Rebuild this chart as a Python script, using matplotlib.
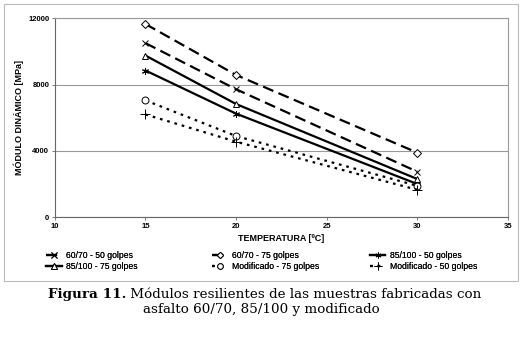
import matplotlib.pyplot as plt
from matplotlib.patches import Rectangle

# temperatures [C] and dynamic modulus [MPa]
temps = [15, 20, 30]
m6070_50 = [10500, 7720, 2750]
m6070_75 = [11650, 8580, 3900]
m85100_50 = [8850, 6250, 2010]
m85100_75 = [9750, 6830, 2310]
mod_75 = [7050, 4900, 1900]
mod_50 = [6200, 4560, 1660]

labels = ["60/70 - 50 golpes", "60/70 - 75 golpes", "85/100 - 50 golpes",
          "85/100 - 75 golpes", "Modificado - 75 golpes", "Modificado - 50 golpes"]

plt.rcParams["font.family"] = ["Liberation Sans", "DejaVu Sans"]

fig = plt.figure(figsize=(5.23, 3.38), dpi=100)
fig.patch.set_facecolor("white")
# outer chart frame
fig.add_artist(Rectangle((0.008, 0.17), 0.983, 0.818, transform=fig.transFigure,
                         fill=False, edgecolor="#BBBBBB", linewidth=0.8))

ax = fig.add_axes([0.105, 0.357, 0.866, 0.589])

long_dash = (0, (5, 2.5))
dots = (0, (1.2, 2.2))
mk = dict(markersize=5, markerfacecolor="white", markeredgecolor="black", markeredgewidth=0.7)
ln = dict(color="black", lw=1.6, dash_capstyle="butt")

h1, = ax.plot(temps, m6070_50, ls=long_dash, marker="x", **ln, **mk)
h2, = ax.plot(temps, m6070_75, ls=long_dash, marker="D", **ln, **{**mk, "markersize": 4})
h3, = ax.plot(temps, m85100_50, ls="-", marker=(6, 2, 0), **ln, **mk)
h4, = ax.plot(temps, m85100_75, ls="-", marker="^", **ln, **mk)
h5, = ax.plot(temps, mod_75, ls=dots, marker="o", **ln, **mk)
h6, = ax.plot(temps, mod_50, ls=dots, marker="+", **ln, **{**mk, "markersize": 7})

ax.set_xlim(10, 35)
ax.set_ylim(0, 12000)
ax.set_xticks([10, 15, 20, 25, 30, 35])
ax.set_yticks([0, 4000, 8000, 12000])
ax.yaxis.grid(True, color="#999999", linewidth=0.8)
ax.set_axisbelow(True)
for s in ax.spines.values():
    s.set_color("#999999")
    s.set_linewidth(0.8)
ax.spines["bottom"].set_color("#666666")
ax.spines["left"].set_color("#666666")
ax.tick_params(labelsize=5.5, length=2, width=0.6, color="#666666", pad=2)
for t in ax.get_xticklabels() + ax.get_yticklabels():
    t.set_fontweight("bold")

ax.set_xlabel("TEMPERATURA [ºC]", fontsize=6.5, fontweight="bold", labelpad=3)
ax.set_ylabel("MÓDULO DINÁMICO [MPa]", fontsize=6.5, fontweight="bold", labelpad=3)

# legend: three columns of two rows, placed like the original
cols = [([h1, h4], [labels[0], labels[3]], 0.088),
        ([h2, h5], [labels[1], labels[4]], 0.405),
        ([h3, h6], [labels[2], labels[5]], 0.707)]
for hs, ls_, x0 in cols:
    leg = fig.legend(hs, ls_, loc="center left", bbox_to_anchor=(x0, 0.227),
                     frameon=False, fontsize=6.2, handlelength=1.8, handletextpad=0.5,
                     labelspacing=0.25, markerscale=0.8, borderpad=0, borderaxespad=0)
    fig.add_artist(leg)

serif = "DejaVu Serif"
fs = 9.7
t1 = fig.text(0.092, 0.13, "Figura 11.", fontsize=fs, family=serif,
              fontweight="bold", va="center")
fig.canvas.draw()
x_next = t1.get_window_extent().x1 / fig.bbox.width
fig.text(x_next, 0.13, " Módulos resilientes de las muestras fabricadas con",
         fontsize=fs, family=serif, va="center")
fig.text(0.5, 0.083, "asfalto 60/70, 85/100 y modificado", fontsize=fs,
         family=serif, ha="center", va="center")

fig.savefig("out.png", dpi=100, facecolor="white")
